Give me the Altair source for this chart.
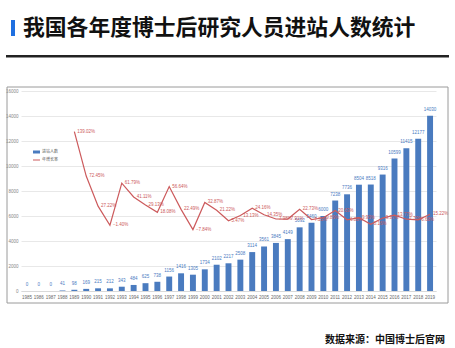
import altair as alt
import pandas as pd

# ---- data ----
years = [str(y) for y in range(1985, 2020)]
counts = [0, 0, 0, 41, 98, 169, 215, 212, 343, 484, 625, 738, 1156, 1416, 1305,
          1734, 2102, 2217, 2508, 3114, 3561, 3845, 4149, 5092, 5460, 6000, 7238,
          7736, 8504, 8518, 9316, 10599, 11415, 12177, 14030]
rate_years = [str(y) for y in range(1989, 2020)]
rates = [139.02, 72.45, 27.22, -1.40, 61.79, 41.11, 29.13, 18.08, 56.64, 22.49,
         -7.84, 32.87, 21.22, 5.47, 13.13, 24.16, 14.35, 7.98, 7.91, 22.73, 7.23,
         9.89, 20.63, 6.88, 9.93, 0.16, 9.37, 13.77, 7.70, 6.68, 15.22]
y_ticks = [0, 2000, 4000, 6000, 8000, 10000, 12000, 14000, 16000]
title_text = "我国各年度博士后研究人员进站人数统计"
source_text = "数据来源：中国博士后官网"
legend_labels = ["进站人数", "年增长率"]

BAR = "#4a7bbf"
RED = "#cc5a5c"
CJK = "Noto Sans CJK SC"
NUM = "Liberation Sans"

W, H = 415, 200
OX, OY = 21, 91

bars_df = pd.DataFrame({"year": years, "count": counts})
line_df = pd.DataFrame({"year": rate_years, "rate": rates})

xscale = alt.Scale(domain=years, paddingInner=0.5, paddingOuter=0.25)
x_axis = alt.Axis(title=None, labelFontSize=4.5, labelColor="#666666", labelAngle=0,
                  ticks=False, domain=True, domainColor="#d9d9d9", labelPadding=3,
                  labelOverlap=False, labelFont=NUM)
ys_count = alt.Scale(domain=[0, 16000], nice=False, zero=True)
ys_rate = alt.Scale(domain=[-100, 200], nice=False, zero=False)

bars = alt.Chart(bars_df).mark_bar(color=BAR).encode(
    x=alt.X("year:N", scale=xscale, sort=years, axis=x_axis),
    y=alt.Y("count:Q", scale=ys_count,
            axis=alt.Axis(values=y_ticks, format="d", title=None, labelFontSize=4.5,
                          labelColor="#888888", ticks=False, domain=False,
                          gridColor="#e8e8e8", labelPadding=3, labelFont=NUM)),
)
bar_labels = alt.Chart(bars_df).mark_text(
    color=BAR, fontSize=4.5, font=NUM, dy=-4, baseline="bottom"
).encode(
    x=alt.X("year:N", scale=xscale, sort=years),
    y=alt.Y("count:Q", scale=ys_count, axis=None),
    text=alt.Text("count:Q", format="d"),
)
line = alt.Chart(line_df).mark_line(color=RED, strokeWidth=1.2).encode(
    x=alt.X("year:N", scale=xscale, sort=years),
    y=alt.Y("rate:Q", scale=ys_rate, axis=None),
)
line_labels = alt.Chart(line_df).transform_calculate(
    lab="format(datum.rate, '.2f') + '%'"
).mark_text(color=RED, fontSize=4.5, font=NUM, align="left", dx=3, baseline="middle").encode(
    x=alt.X("year:N", scale=xscale, sort=years),
    y=alt.Y("rate:Q", scale=ys_rate, axis=None),
    text="lab:N",
)

one = pd.DataFrame({"a": [0]})
title_bar = alt.Chart(one).mark_rect(color="#1f6fe0").encode(
    x=alt.value(-10), x2=alt.value(-6), y=alt.value(-71), y2=alt.value(-55))
title = alt.Chart(pd.DataFrame({"t": [title_text]})).mark_text(
    font=CJK, fontSize=21.8, fontWeight="bold", color="#111111", align="left",
    baseline="middle").encode(x=alt.value(2), y=alt.value(-63), text="t:N")
black_rule = alt.Chart(one).mark_rect(color="#222222").encode(
    x=alt.value(-15), x2=alt.value(428), y=alt.value(-36), y2=alt.value(-33.5))
frame = alt.Chart(one).mark_rect(fill=None, stroke="#9a9a9a", strokeWidth=1).encode(
    x=alt.value(-14), x2=alt.value(427), y=alt.value(-4), y2=alt.value(212))
source = alt.Chart(pd.DataFrame({"t": [source_text]})).mark_text(
    font=CJK, fontSize=10, fontWeight="bold", color="#111111", align="right",
    baseline="middle").encode(x=alt.value(424), y=alt.value(249), text="t:N")

leg_rect = alt.Chart(one).mark_rect(color=BAR).encode(
    x=alt.value(12), x2=alt.value(19), y=alt.value(59.5), y2=alt.value(62.5))
leg_line = alt.Chart(one).mark_rule(color=RED, strokeWidth=1).encode(
    x=alt.value(12), x2=alt.value(19), y=alt.value(69))
leg_t1 = alt.Chart(pd.DataFrame({"t": [legend_labels[0]]})).mark_text(
    font=CJK, fontSize=4, color="#555555", align="left", baseline="middle"
).encode(x=alt.value(21), y=alt.value(61), text="t:N")
leg_t2 = alt.Chart(pd.DataFrame({"t": [legend_labels[1]]})).mark_text(
    font=CJK, fontSize=4, color="#555555", align="left", baseline="middle"
).encode(x=alt.value(21), y=alt.value(69), text="t:N")

chart = alt.layer(
    bars, bar_labels, line, line_labels,
    title_bar, title, black_rule, frame, source,
    leg_rect, leg_line, leg_t1, leg_t2,
).resolve_scale(y="independent").properties(
    width=W, height=H,
    autosize=alt.AutoSizeParams(type="none"),
    padding={"left": OX, "top": OY, "right": 455 - OX - W, "bottom": 348 - OY - H},
    background="white",
).configure_view(stroke=None)

chart.save("out.html", embed_options={"renderer": "svg", "actions": False})
